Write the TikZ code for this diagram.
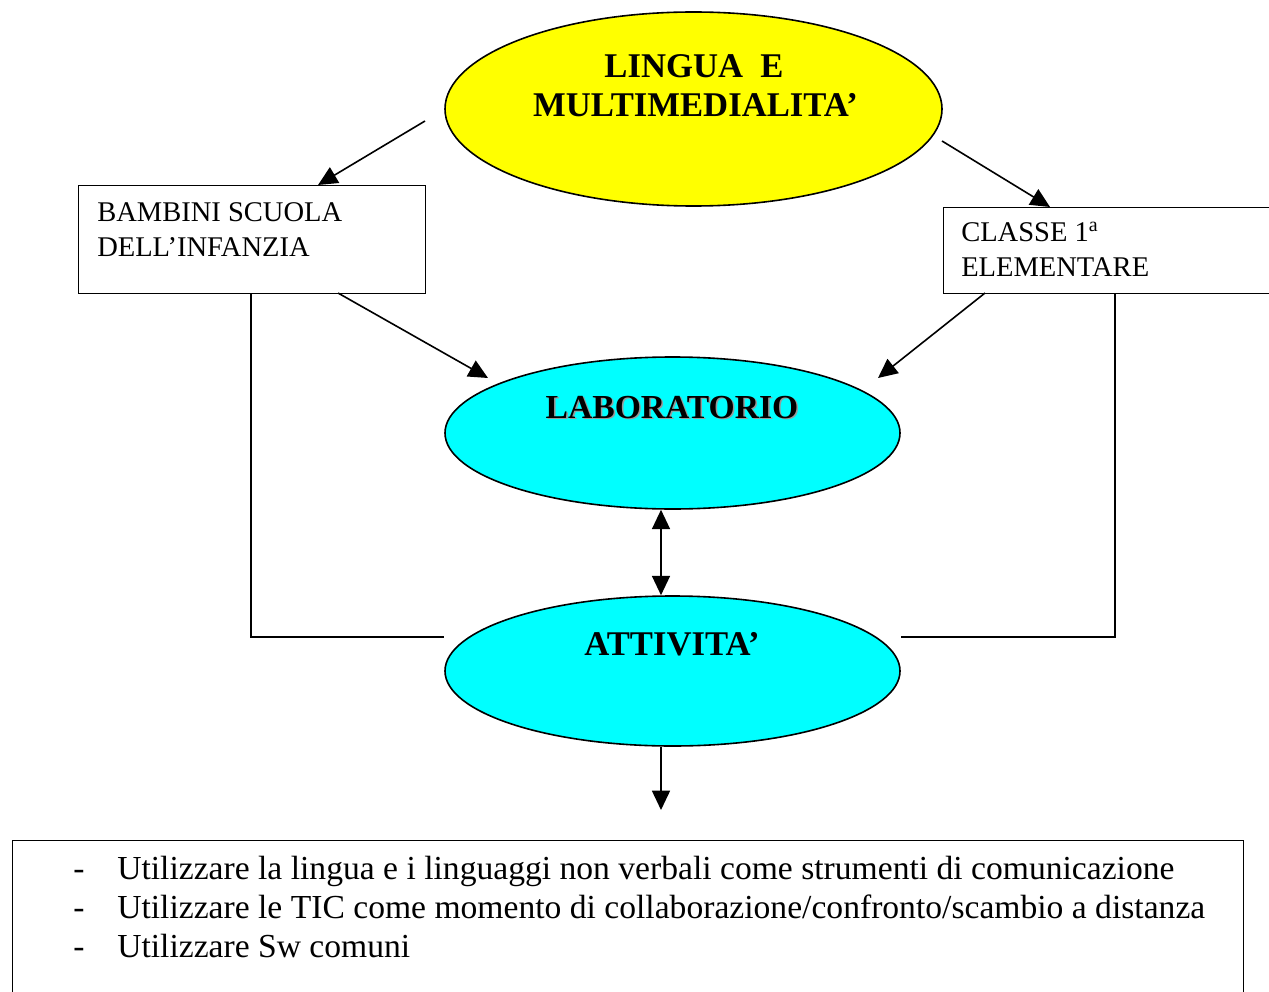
\documentclass[tikz,border=0pt]{standalone}
\usepackage{fontspec}
\setmainfont{Liberation Serif}
\usetikzlibrary{shapes.geometric,arrows.meta}
\definecolor{pureyellow}{RGB}{255,255,0}
\definecolor{purecyan}{RGB}{0,255,255}
\begin{document}
\begin{tikzpicture}[x=0.75pt,y=-0.75pt,
  conn/.style={line width=1.2pt},
  tip/.tip={Triangle[length=14.5pt,width=13.5pt]},
  arr/.style={conn,-tip},
  darr/.style={conn,tip-tip},
  oval/.style={ellipse,draw,line width=1.2pt,inner sep=0pt},
  frame/.style={rectangle,draw,line width=1.1pt,inner sep=0pt,anchor=north west},
  boxtext/.style={anchor=base west,inner sep=0pt,font=\fontsize{21.4pt}{24pt}\selectfont},
  title/.style={anchor=base,inner sep=0pt,font=\fontsize{26pt}{29pt}\selectfont\bfseries},
  item/.style={anchor=base west,inner sep=0pt,font=\fontsize{25.2pt}{29pt}\selectfont}]
\clip (0,0) rectangle (1269,991);
\fill[white] (0,0) rectangle (1269,991);

% ovals
\node[oval,fill=pureyellow,minimum width=372.75pt,minimum height=145.5pt] (lingua) at (693.5,109) {};
\node[oval,fill=purecyan,minimum width=341.25pt,minimum height=114pt] (lab) at (672.5,433) {};
\node[oval,fill=purecyan,minimum width=341.25pt,minimum height=112.5pt] (att) at (672.5,671) {};

% boxes
\node[frame,minimum width=260.25pt,minimum height=81pt] (bambini) at (78,185) {};
\node[frame,minimum width=246pt,minimum height=64.5pt] (classe) at (943,207) {};
\node[frame,minimum width=923.25pt,minimum height=130pt] (obiettivi) at (12,840) {};

% oval texts
\node[title] (t1) at (694,78) {LINGUA\ \ E};
\node[title] (t2) at (695.5,117) {MULTIMEDIALITA’};
\node[title,text=black!40,font=\fontsize{25.2pt}{29pt}\selectfont\bfseries] (t3s) at (673.5,419.5) {LABORATORIO};
\node[title,font=\fontsize{25.2pt}{29pt}\selectfont\bfseries] (t3) at (672,418) {LABORATORIO};
\node[title] (t4) at (672,655) {ATTIVITA’};

% box texts
\node[boxtext] (b1) at (97,222) {BAMBINI SCUOLA};
\node[boxtext] (b2) at (97,256) {DELL’INFANZIA};
\node[boxtext] (c1) at (961,242) {CLASSE 1\textsuperscript{a}};
\node[boxtext] (c2) at (961,276) {ELEMENTARE};

% list
\node[item] (d1) at (73,879) {-};
\node[item] (i1) at (117,879) {Utilizzare la lingua e i linguaggi non verbali come strumenti di comunicazione};
\node[item] (d2) at (73,918) {-};
\node[item] (i2) at (117,918) {Utilizzare le TIC come momento di collaborazione/confronto/scambio a distanza};
\node[item] (d3) at (73,957) {-};
\node[item] (i3) at (117,957) {Utilizzare Sw comuni};

% connector points
\coordinate (sl) at (425,121);
\coordinate (el) at (318,185);
\coordinate (sr) at (942,141);
\coordinate (er) at (1050,207);
\coordinate (bs) at (338,293);
\coordinate (be) at (488,378);
\coordinate (cs) at (985,293);
\coordinate (ce) at (878,378);
\coordinate (vx) at (661,0);
\coordinate (lc) at (251,637);
\coordinate (rc) at (1115,637);
\coordinate (down) at (661,810);

% connectors
\draw[arr] (sl) -- (el);
\draw[arr] (sr) -- (er);
\draw[arr] (bs) -- (be);
\draw[arr] (cs) -- (ce);
\draw[darr] (lab.south -| vx) -- (att.north -| vx);
\draw[arr] (att.south -| vx) -- (down);
\draw[conn] (bambini.south -| lc) -- (lc) -- (att.west |- lc);
\draw[conn] (classe.south -| rc) -- (rc) -- (att.east |- rc);
\end{tikzpicture}
\end{document}
